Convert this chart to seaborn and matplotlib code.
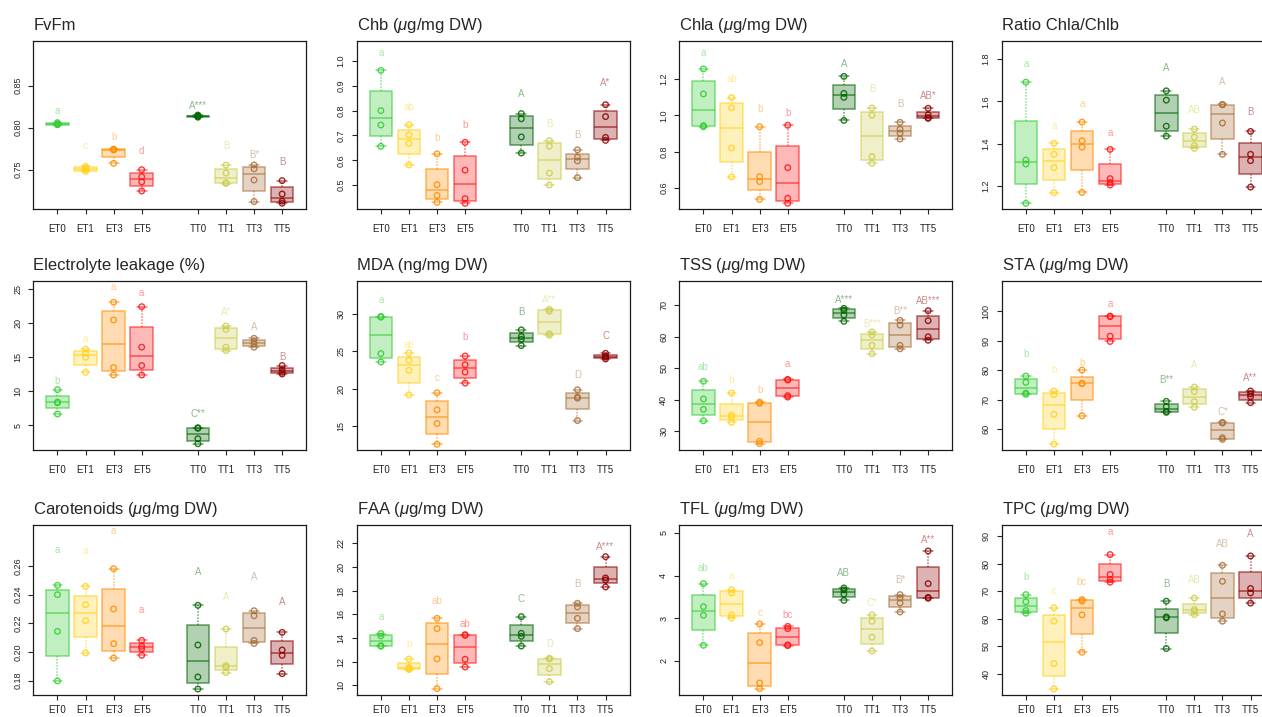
import numpy as np
import matplotlib
matplotlib.use("Agg")
import matplotlib.pyplot as plt
import seaborn as sns
from matplotlib.colors import to_rgba

# ---------------- data ----------------
groups = ["ET0", "ET1", "ET3", "ET5", "TT0", "TT1", "TT3", "TT5"]

titles = ["FvFm", r"Chb ($\mu$g/mg DW)", r"Chla ($\mu$g/mg DW)", "Ratio Chla/Chlb",
          "Electrolyte leakage (%)", "MDA (ng/mg DW)", r"TSS ($\mu$g/mg DW)", r"STA ($\mu$g/mg DW)",
          r"Carotenoids ($\mu$g/mg DW)", r"FAA ($\mu$g/mg DW)", r"TFL ($\mu$g/mg DW)", r"TPC ($\mu$g/mg DW)"]

fvfm = [[0.8035, 0.8040, 0.8045, 0.8060], [0.7480, 0.7500, 0.7520, 0.7540],
        [0.7575, 0.7735, 0.7740, 0.7745], [0.7246, 0.7354, 0.7416, 0.7500],
        [0.8125, 0.8135, 0.8140, 0.8150], [0.7335, 0.7345, 0.7460, 0.7555],
        [0.7120, 0.7377, 0.7510, 0.7556], [0.7100, 0.7125, 0.7210, 0.7370]]
fvfm_letters = ["a", "c", "b", "d", "A***", "B", "B*", "B"]
fvfm_label_y = [0.820, 0.778, 0.789, 0.7726, 0.826, 0.7786, 0.7675, 0.7595]
fvfm_yticks = [0.75, 0.80, 0.85]

chb = [[0.656, 0.742, 0.800, 0.962], [0.581, 0.668, 0.702, 0.743],
       [0.430, 0.458, 0.501, 0.626], [0.426, 0.445, 0.560, 0.672],
       [0.629, 0.694, 0.767, 0.788], [0.500, 0.548, 0.656, 0.679],
       [0.530, 0.597, 0.612, 0.642], [0.680, 0.692, 0.776, 0.824]]
chb_letters = ["a", "ab", "b", "b", "A", "B", "B", "A*"]
chb_label_y = [1.034, 0.815, 0.691, 0.742, 0.867, 0.746, 0.703, 0.910]
chb_yticks = [0.5, 0.6, 0.7, 0.8, 0.9, 1.0]

chla = [[0.937, 0.943, 1.118, 1.256], [0.660, 0.820, 1.042, 1.098],
        [0.536, 0.634, 0.661, 0.937], [0.514, 0.542, 0.711, 0.945],
        [0.972, 1.099, 1.121, 1.215], [0.735, 0.772, 1.000, 1.040],
        [0.869, 0.902, 0.923, 0.961], [0.983, 0.987, 1.002, 1.039]]
chla_letters = ["a", "ab", "b", "b", "A", "B", "B", "AB*"]
chla_label_y = [1.346, 1.200, 1.035, 1.011, 1.281, 1.144, 1.061, 1.109]
chla_yticks = [0.6, 0.8, 1.0, 1.2]

ratio = [[1.118, 1.304, 1.323, 1.691], [1.168, 1.287, 1.350, 1.402],
         [1.170, 1.384, 1.414, 1.502], [1.205, 1.217, 1.235, 1.373],
         [1.436, 1.483, 1.606, 1.650], [1.378, 1.391, 1.431, 1.469],
         [1.350, 1.498, 1.584, 1.586], [1.195, 1.320, 1.350, 1.458]]
ratio_letters = ["a", "a", "a", "a", "A", "AB", "A", "B"]
ratio_label_y = [1.775, 1.482, 1.590, 1.450, 1.759, 1.5575, 1.691, 1.548]
ratio_yticks = [1.2, 1.4, 1.6, 1.8]

el = [[6.67, 8.33, 8.43, 10.25], [12.8, 15.0, 15.6, 16.2],
      [12.4, 13.5, 20.5, 23.1], [12.4, 13.8, 16.5, 22.45],
      [2.30, 3.04, 4.56, 4.66], [16.0, 16.5, 19.1, 19.6],
      [16.5, 16.96, 17.35, 17.8], [12.55, 12.8, 13.2, 13.8]]
el_letters = ["b", "a", "a", "a", "C**", "A*", "A", "B"]
el_label_y = [11.5, 17.7, 25.3, 24.5, 6.67, 21.6, 19.5, 15.0]
el_yticks = [5, 10, 15, 20, 25]

mda = [[23.57, 24.7, 29.55, 29.64], [19.2, 22.46, 23.8, 24.78],
       [12.59, 15.36, 17.19, 19.46], [20.76, 22.23, 23.2, 24.37],
       [25.76, 26.6, 26.96, 27.86], [27.14, 27.37, 30.36, 30.6],
       [15.76, 18.75, 18.88, 19.87], [23.97, 24.2, 24.37, 24.73]]
mda_letters = ["a", "ab", "c", "b", "B", "A**", "D", "C"]
mda_label_y = [31.8, 25.8, 21.4, 26.9, 30.2, 31.8, 21.8, 27.05]
mda_yticks = [15, 20, 25, 30]

tss = [[33.4, 37.0, 40.3, 45.9], [32.9, 34.6, 35.2, 42.2],
       [26.15, 26.9, 38.9, 39.3], [40.9, 41.35, 46.3, 46.5],
       [64.9, 66.9, 68.4, 69.0], [54.64, 57.3, 60.55, 61.5],
       [56.2, 57.28, 63.7, 65.2], [58.9, 60.0, 65.1, 68.26]]
tss_letters = ["ab", "b", "b", "a", "A***", "B***", "B**", "AB***"]
tss_label_y = [50.4, 46.2, 43.0, 51.3, 71.5, 64.0, 68.15, 71.2]
tss_yticks = [30, 40, 50, 60, 70]

sta = [[71.86, 72.3, 75.93, 78.08], [55.0, 65.1, 71.75, 73.0],
       [64.6, 75.5, 75.6, 80.1], [89.8, 91.6, 98.2, 98.4],
       [65.76, 66.1, 67.7, 69.5], [67.5, 69.4, 72.8, 74.35],
       [56.6, 57.17, 62.15, 62.37], [69.04, 71.1, 72.0, 73.0]]
sta_letters = ["b", "b", "b", "a", "B**", "A", "C*", "A**"]
sta_label_y = [85.65, 80.2, 82.5, 102.6, 76.7, 81.7, 65.9, 77.4]
sta_yticks = [60, 70, 80, 90, 100]

car = [[0.1798, 0.2144, 0.2400, 0.2465], [0.1993, 0.2219, 0.2330, 0.2458],
       [0.1958, 0.2058, 0.2300, 0.2581], [0.1977, 0.2023, 0.2040, 0.2081],
       [0.1742, 0.1826, 0.2049, 0.2326], [0.1856, 0.1895, 0.1905, 0.2160],
       [0.2060, 0.2081, 0.2253, 0.2288], [0.1849, 0.1977, 0.2014, 0.2137]]
car_letters = ["a", "a", "a", "a", "A", "A", "A", "A"]
car_label_y = [0.2712, 0.2707, 0.2842, 0.2291, 0.2561, 0.2381, 0.2521, 0.2349]
car_yticks = [0.18, 0.20, 0.22, 0.24, 0.26]

faa = [[13.30, 13.35, 14.17, 14.37], [11.33, 11.40, 11.50, 12.22],
       [9.72, 12.23, 14.79, 15.66], [11.55, 12.2, 14.22, 14.28],
       [13.32, 14.14, 14.39, 15.8], [10.31, 11.41, 12.23, 12.28],
       [14.79, 15.66, 16.62, 16.93], [18.31, 18.9, 19.07, 20.87]]
faa_letters = ["a", "b", "ab", "ab", "C", "D", "B", "A***"]
faa_label_y = [15.77, 13.49, 17.13, 15.15, 17.32, 13.46, 18.56, 21.66]
faa_yticks = [10, 12, 14, 16, 18, 20, 22]

tfl = [[2.367, 3.07, 3.273, 3.8125], [3.008, 3.078, 3.594, 3.672],
       [1.352, 1.484, 2.43, 2.867], [2.36, 2.375, 2.758, 2.81],
       [3.42, 3.57, 3.664, 3.711], [2.234, 2.555, 2.93, 3.078],
       [3.148, 3.36, 3.477, 3.555], [3.469, 3.49, 3.8125, 4.578]]
tfl_letters = ["ab", "a", "c", "bc", "AB", "C*", "B*", "A**"]
tfl_label_y = [4.18, 4.0, 3.117, 3.086, 4.07, 3.36, 3.89, 4.836]
tfl_yticks = [2, 3, 4, 5]

tpc = [[62.05, 63.0, 66.16, 68.8], [34.6, 43.8, 59.15, 64.0],
       [47.9, 61.45, 66.4, 67.0], [73.3, 74.25, 76.1, 83.3],
       [49.25, 60.36, 60.7, 66.4], [61.57, 62.8, 63.4, 67.5],
       [59.15, 61.8, 73.6, 79.4], [65.7, 69.4, 71.0, 82.8]]
tpc_letters = ["b", "c", "bc", "a", "B", "AB", "AB", "A"]
tpc_label_y = [75.2, 70.0, 73.3, 91.4, 72.7, 73.9, 87.3, 90.8]
tpc_yticks = [40, 50, 60, 70, 80, 90]

panels = [
    (fvfm, fvfm_letters, fvfm_label_y, fvfm_yticks, (0.7028, 0.9036), "{:.2f}"),
    (chb, chb_letters, chb_label_y, chb_yticks, (0.402, 1.082), "{:.1f}"),
    (chla, chla_letters, chla_label_y, chla_yticks, (0.481, 1.412), "{:.1f}"),
    (ratio, ratio_letters, ratio_label_y, ratio_yticks, (1.090, 1.887), "{:.1f}"),
    (el, el_letters, el_label_y, el_yticks, (1.38, 26.27), "{:d}"),
    (mda, mda_letters, mda_label_y, mda_yticks, (11.83, 34.42), "{:d}"),
    (tss, tss_letters, tss_label_y, tss_yticks, (24.14, 77.76), "{:d}"),
    (sta, sta_letters, sta_label_y, sta_yticks, (53.0, 110.4), "{:d}"),
    (car, car_letters, car_label_y, car_yticks, (0.1698, 0.2884), "{:.2f}"),
    (faa, faa_letters, faa_label_y, faa_yticks, (9.155, 23.52), "{:d}"),
    (tfl, tfl_letters, tfl_label_y, tfl_yticks, (1.195, 5.18), "{:d}"),
    (tpc, tpc_letters, tpc_label_y, tpc_yticks, (32.3, 93.9), "{:d}"),
]

# ---------------- style ----------------
positions = [1, 2, 3, 4, 6, 7, 8, 9]
colors = ["#32CD32", "#FFD21F", "#FF8C00", "#FF1414",
          "#006400", "#CDCD50", "#A8703A", "#8B0000"]

sns.set_style("white")
plt.rcParams["font.family"] = ["Liberation Sans", "DejaVu Sans"]
plt.rcParams["mathtext.fontset"] = "custom"
plt.rcParams["mathtext.rm"] = "Liberation Sans"
plt.rcParams["mathtext.it"] = "Liberation Sans:italic"


def fivenum_stats(vals):
    x = np.sort(np.asarray(vals, dtype=float))
    n = len(x)
    n4 = np.floor((n + 3) / 2) / 2
    d = np.array([1, n4, (n + 1) / 2, n + 1 - n4, n]) - 1
    f = 0.5 * (x[np.floor(d).astype(int)] + x[np.ceil(d).astype(int)])
    iqr = f[3] - f[1]
    lo = x[x >= f[1] - 1.5 * iqr].min()
    hi = x[x <= f[3] + 1.5 * iqr].max()
    return dict(med=f[2], q1=f[1], q3=f[3], whislo=lo, whishi=hi, fliers=[])


W, H = 1262, 717
fig = plt.figure(figsize=(W / 100, H / 100), dpi=100)

col_left = [33.3, 356.7, 679.3, 1001.7]
col_w = 273.0
row_top = [40.7, 280.7, 525.3]
row_bot = [209.3, 450.0, 695.3]
row_xpad = [7, 7, 3.2]

for i, (data, letters, label_y, yticks, ylim, fmt) in enumerate(panels):
    r, c = divmod(i, 4)
    ax = fig.add_axes([col_left[c] / W, 1 - row_bot[r] / H,
                       col_w / W, (row_bot[r] - row_top[r]) / H])
    for g, (vals, pos, col) in enumerate(zip(data, positions, colors)):
        st = fivenum_stats(vals)
        line_c = to_rgba(col, 0.6)
        ax.bxp([st], positions=[pos], widths=0.8, capwidths=0.35,
               patch_artist=True, showfliers=False,
               boxprops=dict(facecolor=to_rgba(col, 0.3), edgecolor=line_c, linewidth=1.1),
               medianprops=dict(color=line_c, linewidth=1.2),
               whiskerprops=dict(color=line_c, linewidth=1.1, linestyle=(0, (1, 1))),
               capprops=dict(color=line_c, linewidth=1.1))
        sns.scatterplot(x=np.full(len(vals), pos), y=vals, ax=ax, marker="o", s=16,
                        color=col, facecolor="none", edgecolor=to_rgba(col, 0.85),
                        linewidth=1.0, legend=False, zorder=3)
        ax.text(pos, label_y[g], letters[g], color=to_rgba(col, 0.45),
                ha="center", va="center", fontsize=7)
    ax.set_xlim(0.14, 9.86)
    ax.set_ylim(*ylim)
    ax.set_xticks(positions)
    ax.set_xticklabels(groups, fontsize=7, color="#222222")
    ax.set_yticks(yticks)
    ax.set_yticklabels([fmt.format(t) for t in yticks], fontsize=6.5,
                       rotation=90, va="center", color="#222222")
    ax.tick_params(axis="x", bottom=True, direction="out", length=3.5, width=0.8,
                   pad=row_xpad[r])
    ax.tick_params(axis="y", left=True, direction="out", length=3.5, width=0.8, pad=4.5)
    ax.set_xlabel("")
    ax.set_ylabel("")
    for sp in ax.spines.values():
        sp.set_visible(True)
        sp.set_color("#1a1a1a")
        sp.set_linewidth(0.9)
    ax.set_title(titles[i], loc="left", fontsize=12, pad=8)

fig.savefig("out.png", dpi=100)
